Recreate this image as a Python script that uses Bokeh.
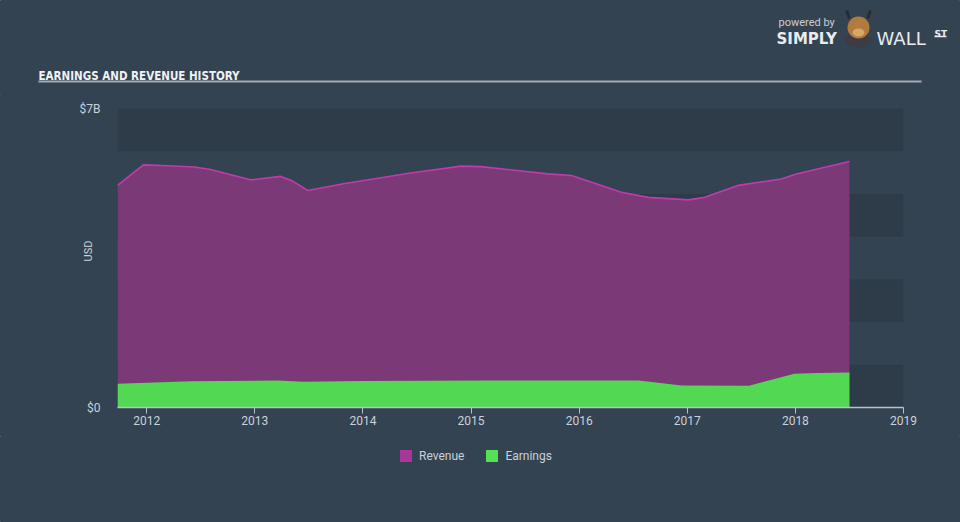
from bokeh.plotting import figure
from bokeh.models import (Range1d, FixedTicker, Legend, LegendItem, BoxAnnotation, ColumnDataSource,
                          InlineStyleSheet)
from bokeh.core.properties import value
from bokeh.embed import file_html
from bokeh.resources import INLINE

# ---- data ----
rev_year = [2011.73, 2011.97, 2012.20, 2012.44, 2012.59, 2012.96, 2013.24, 2013.35, 2013.49, 2013.82,
            2014.44, 2014.91, 2015.09, 2015.71, 2015.93, 2016.39, 2016.64, 2017.01, 2017.16, 2017.47,
            2017.87, 2018.0, 2018.50]
revenue = [5.20, 5.68, 5.66, 5.63, 5.57, 5.33, 5.41, 5.30, 5.08, 5.24,
           5.49, 5.65, 5.64, 5.47, 5.43, 5.04, 4.92, 4.86, 4.92, 5.20,
           5.35, 5.46, 5.76]
earn_year = [2011.73, 2012.41, 2013.21, 2013.45, 2014.0, 2015.1, 2016.55, 2016.95, 2017.57, 2017.99, 2018.2, 2018.50]
earnings = [0.555, 0.616, 0.632, 0.60, 0.62, 0.632, 0.632, 0.515, 0.51, 0.79, 0.81, 0.82]
x_ticks = [2012, 2013, 2014, 2015, 2016, 2017, 2018, 2019]
y_ticks = [0, 7]
y_tick_labels = {0: "$0", 7: "$7B"}
band_bottoms = [0, 2, 4, 6]
series_names = ["Revenue", "Earnings"]
title_text = "EARNINGS AND REVENUE HISTORY"

BG = "#344352"
BAND = "#2e3c4a"
TXT = "#c9d1d9"
HEAD_H = 95
MAIN_H = 342
LEG_H = 522 - HEAD_H - MAIN_H + 1

CSS = InlineStyleSheet(css=":host { border: none !important; outline: none !important; } "
                           "svg, canvas, div { border: none !important; outline: none !important; }")


def no_outline(f):
    f.outline_line_color = BG
    f.outline_line_alpha = 1
    f.outline_line_width = 1
    f.stylesheets = [CSS]


def blank(height):
    f = figure(width=960, height=height, output_backend="svg", toolbar_location=None,
               x_range=Range1d(0, 960), y_range=Range1d(height, 0),
               min_border=0, min_border_left=0, min_border_right=0, min_border_top=0, min_border_bottom=0)
    f.axis.visible = False
    f.grid.visible = False
    no_outline(f)
    f.border_fill_color = BG
    f.background_fill_color = BG
    return f


# ---------------- header (title, rule, logo) ----------------
h = blank(HEAD_H)
h.styles = {"position": "relative", "z-index": "2"}
h.text(x=[38], y=[75], text=[title_text], text_baseline="alphabetic", text_align="left",
       text_color="#f0f2f4", text_font=value("DejaVu Sans Condensed"),
       text_font_style="bold", text_font_size="11.5px")
h.segment(x0=[38], y0=[81], x1=[921], y1=[81], line_color="#a3abb4", line_width=2)

# logo
h.text(x=[778], y=[22], text=["powered by"], text_baseline="alphabetic",
       text_color="#c8ced4", text_font=value("Roboto"), text_font_size="11px")
h.text(x=[776], y=[38], text=["SIMPLY"], text_baseline="alphabetic",
       text_color="#e8ecef", text_font=value("DejaVu Sans"), text_font_style="bold", text_font_size="15px")
h.text(x=[876], y=[38], text=["WALL"], text_baseline="alphabetic",
       text_color="#e8ecef", text_font=value("DejaVu Sans"), text_font_size="18px")
h.text(x=[934], y=[33], text=["ST"], text_baseline="alphabetic",
       text_color="#e8ecef", text_font=value("DejaVu Sans"), text_font_style="bold", text_font_size="9px")
h.segment(x0=[934], y0=[36], x1=[946], y1=[36], line_color="#e8ecef", line_width=1.5)
h.ellipse(x=[858], y=[40], width=[26], height=[14], fill_color="#3b3d42", line_color=None)
h.ellipse(x=[858], y=[27], width=[22], height=[22], fill_color="#b27b3e", line_color=None)
h.ellipse(x=[858], y=[32], width=[12], height=[8], fill_color="#d9a66a", line_color=None)
h.segment(x0=[849, 867], y0=[18, 18], x1=[846, 870], y1=[10, 10], line_color="#2b2b2b", line_width=3)

# ---------------- main chart ----------------
X0, X1 = 2011.73, 2019.0
PY = 299 / 7.0                      # pixels per unit on the y axis
Y_TOP = 7 + (109 - HEAD_H) / PY     # frame reaches the top of this figure
p = figure(width=961, height=MAIN_H, output_backend="svg", toolbar_location=None,
           x_range=Range1d(X0, X1), y_range=Range1d(0, Y_TOP),
           min_border_left=118, min_border_right=57, min_border_top=0,
           min_border_bottom=MAIN_H - (408 - HEAD_H))
p.styles = {"margin-left": "-1px", "margin-top": "-1px", "position": "relative", "z-index": "1"}
p.border_fill_color = BG
p.background_fill_color = BG
no_outline(p)
p.grid.visible = False

for b in band_bottoms:
    p.add_layout(BoxAnnotation(bottom=b, top=b + 1, fill_color=BAND, fill_alpha=1.0,
                               line_color=None, line_alpha=0, level="underlay"))

rsrc = ColumnDataSource(dict(x=rev_year, y=revenue))
esrc = ColumnDataSource(dict(x=earn_year, y=earnings))
p.varea(x="x", y1=0, y2="y", source=rsrc, fill_color="#7b3977", fill_alpha=1.0)
p.line(x="x", y="y", source=rsrc, line_color="#c23bab", line_width=1.6)
p.varea(x="x", y1=0, y2="y", source=esrc, fill_color="#53d853", fill_alpha=1.0)

xa = p.xaxis[0]
xa.ticker = FixedTicker(ticks=x_ticks)
xa.axis_line_color = "#b9c2cb"
xa.axis_line_width = 1.5
xa.major_tick_line_color = "#b9c2cb"
xa.major_tick_out = 6
xa.major_tick_in = 0
xa.minor_tick_line_color = None
xa.major_label_standoff = 2
xa.major_label_text_color = TXT
xa.major_label_text_font = "Roboto"
xa.major_label_text_font_size = "12px"

ya = p.yaxis[0]
ya.ticker = FixedTicker(ticks=y_ticks)
ya.major_label_overrides = y_tick_labels
ya.axis_line_color = None
ya.major_tick_line_color = None
ya.minor_tick_line_color = None
ya.major_label_standoff = 11
ya.major_label_text_color = TXT
ya.major_label_text_font = "Roboto"
ya.major_label_text_font_size = "12px"
ya.axis_label = "USD"
ya.axis_label_standoff = -18
ya.axis_label_text_color = TXT
ya.axis_label_text_font = "Roboto"
ya.axis_label_text_font_style = "normal"
ya.axis_label_text_font_size = "11px"

# ---------------- legend strip ----------------
lg = blank(LEG_H)
r_sw = lg.quad(left=[-100], right=[-90], bottom=[-100], top=[-90], fill_color="#a9379b", line_color=None)
e_sw = lg.quad(left=[-100], right=[-90], bottom=[-100], top=[-90], fill_color="#53e053", line_color=None)
legend = Legend(items=[LegendItem(label=series_names[0], renderers=[r_sw]),
                       LegendItem(label=series_names[1], renderers=[e_sw])],
                orientation="horizontal", location=(398, LEG_H - 27),
                background_fill_alpha=0, border_line_color=None,
                label_text_color=TXT, label_text_font="Roboto", label_text_font_size="12px",
                glyph_width=15, glyph_height=15, label_standoff=6, spacing=20, padding=4, margin=0)
lg.add_layout(legend, "center")

open("out.html", "w").write(file_html([h, p, lg], INLINE))
